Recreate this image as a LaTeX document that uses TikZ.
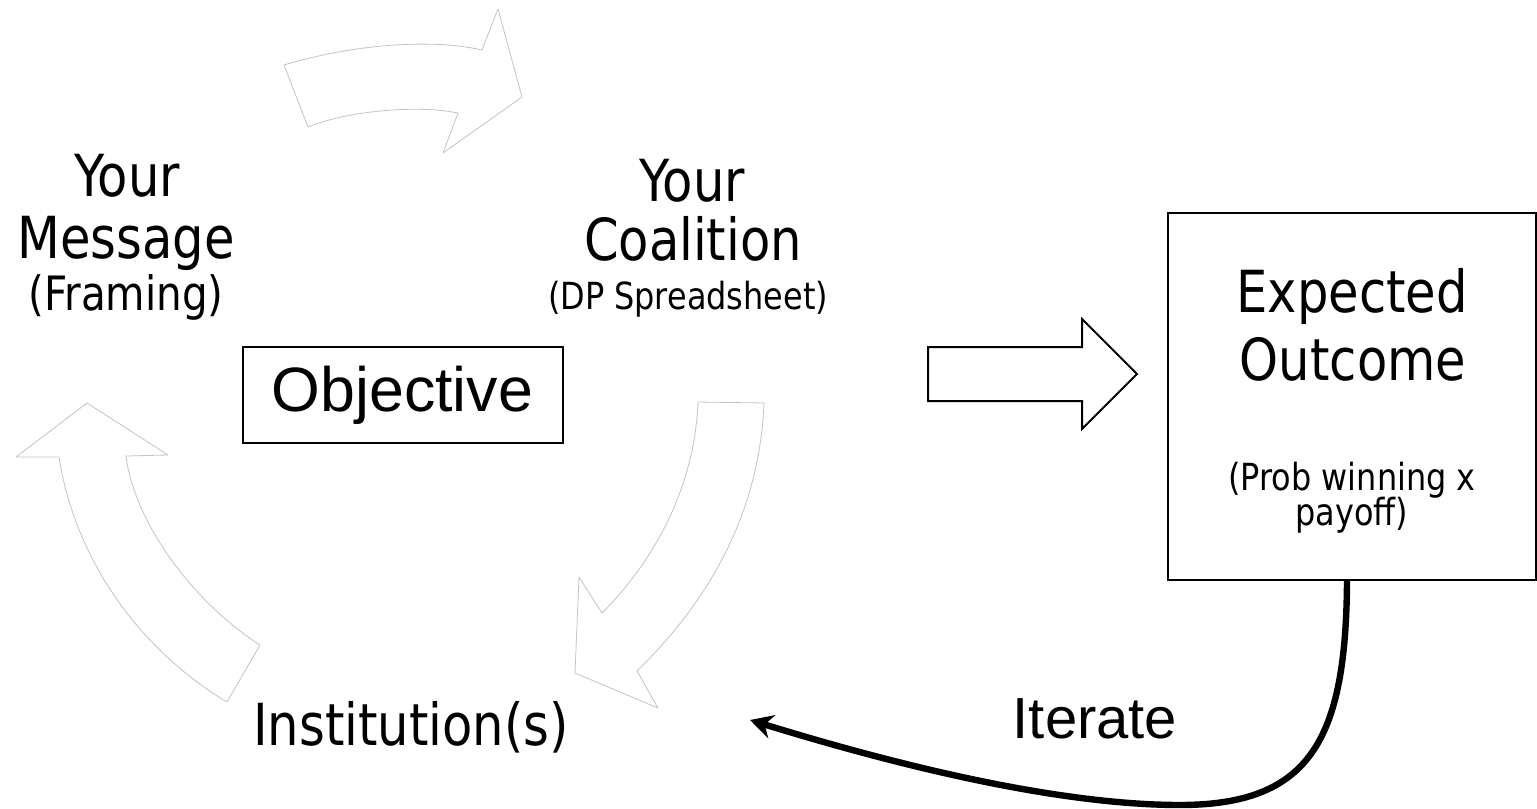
\documentclass[tikz,border=0pt]{standalone}
\usepackage{fontspec}
\usepackage{tikz}
\usetikzlibrary{calc,positioning,arrows.meta}
\usepackage{xcolor}
\newfontfamily\tahomafont[FakeStretch=0.855]{DejaVu Sans}
\newfontfamily\arialfont{Liberation Sans}
\definecolor{cyclegray}{RGB}{195,195,195}

\begin{document}
\begin{tikzpicture}[x=0.75pt, y=-0.75pt,
  lbl/.style={inner sep=0pt, anchor=base},
  bigtxt/.style={font=\tahomafont\fontsize{43.5}{52}\selectfont},
  midtxt/.style={font=\tahomafont\fontsize{35.5}{42}\selectfont},
  smalltxt/.style={font=\tahomafont\fontsize{28}{34}\selectfont},
  cyc/.style={draw=cyclegray, line width=0.6pt, line join=round},
  blk/.style={draw=black, line width=1.5pt}]
  \useasboundingbox (0,0) rectangle (1537,809);
  % cycle of hollow arrows
  \draw[cyc] (284,65) .. controls (350,45) and (430,38) .. (482,50) -- (498,9) -- (522,97)
    -- (443,153) -- (458,113) .. controls (420,105) and (350,110) .. (308,127) -- cycle;
  \draw[cyc] (698,402) -- (764,403) .. controls (760,500) and (720,590) .. (637,671)
    -- (658,708) -- (575,673) -- (579,577) -- (602,613) .. controls (660,555) and (695,480) .. (698,402) -- cycle;
  \draw[cyc] (87,403) -- (168,455) -- (126,456) .. controls (134,520) and (190,600) .. (260,645)
    -- (227,702) .. controls (140,650) and (75,560) .. (59,457) -- (16,457) -- cycle;
  % labels round the cycle
  \node[lbl, bigtxt] (msgA) at (127,197) {Your};
  \node[lbl, bigtxt] (msgB) at ($(msgA.base)+(-1,61)$) {Message};
  \node[lbl, midtxt] (msgC) at ($(msgB.base)+(0,52)$) {(Framing)};
  \node[lbl, bigtxt] (coalA) at (692,202) {Your};
  \node[lbl, bigtxt] (coalB) at ($(coalA.base)+(1,58)$) {Coalition};
  \node[lbl, smalltxt] (coalC) at ($(coalB.base)+(-5,49)$) {(DP Spreadsheet)};
  \node[lbl, bigtxt] (inst) at (411,745) {Institution(s)};
  \node[blk, minimum width=240pt, minimum height=72pt, inner sep=0pt,
    font=\arialfont\fontsize{47}{56}\selectfont] (obj) at (402.5,395) {Objective};
  % block arrow
  \draw[blk] (928,347) -- (1082,347) -- (1082,319) -- (1137,374) -- (1082,429) -- (1082,401) -- (928,401) -- cycle;
  % outcome box
  \node[blk, minimum width=276pt, minimum height=275pt, inner sep=0pt] (outbox) at (1352,396.5) {};
  \node[lbl, bigtxt] (outA) at (1352,312) {Expected};
  \node[lbl, bigtxt] (outB) at ($(outA.base)+(1,68)$) {Outcome};
  \node[lbl, smalltxt] (outC) at (1352,490) {(Prob winning x};
  \node[lbl, smalltxt] (outD) at ($(outC.base)+(0,35)$) {payoff)};
  % feedback
  \node[lbl, font=\arialfont\fontsize{43.5}{52}\selectfont] (iter) at (1095,738) {Iterate};
  \coordinate (loopEnd) at (750,720);
  \draw[line width=4.8pt, -{Stealth[length=17pt,width=18pt]}]
    ($(outbox.south)+(-5,0)$) .. controls (1346,740) and (1310,805) .. (1180,805)
    .. controls (1050,805) and (880,760) .. (loopEnd);
\end{tikzpicture}
\end{document}
